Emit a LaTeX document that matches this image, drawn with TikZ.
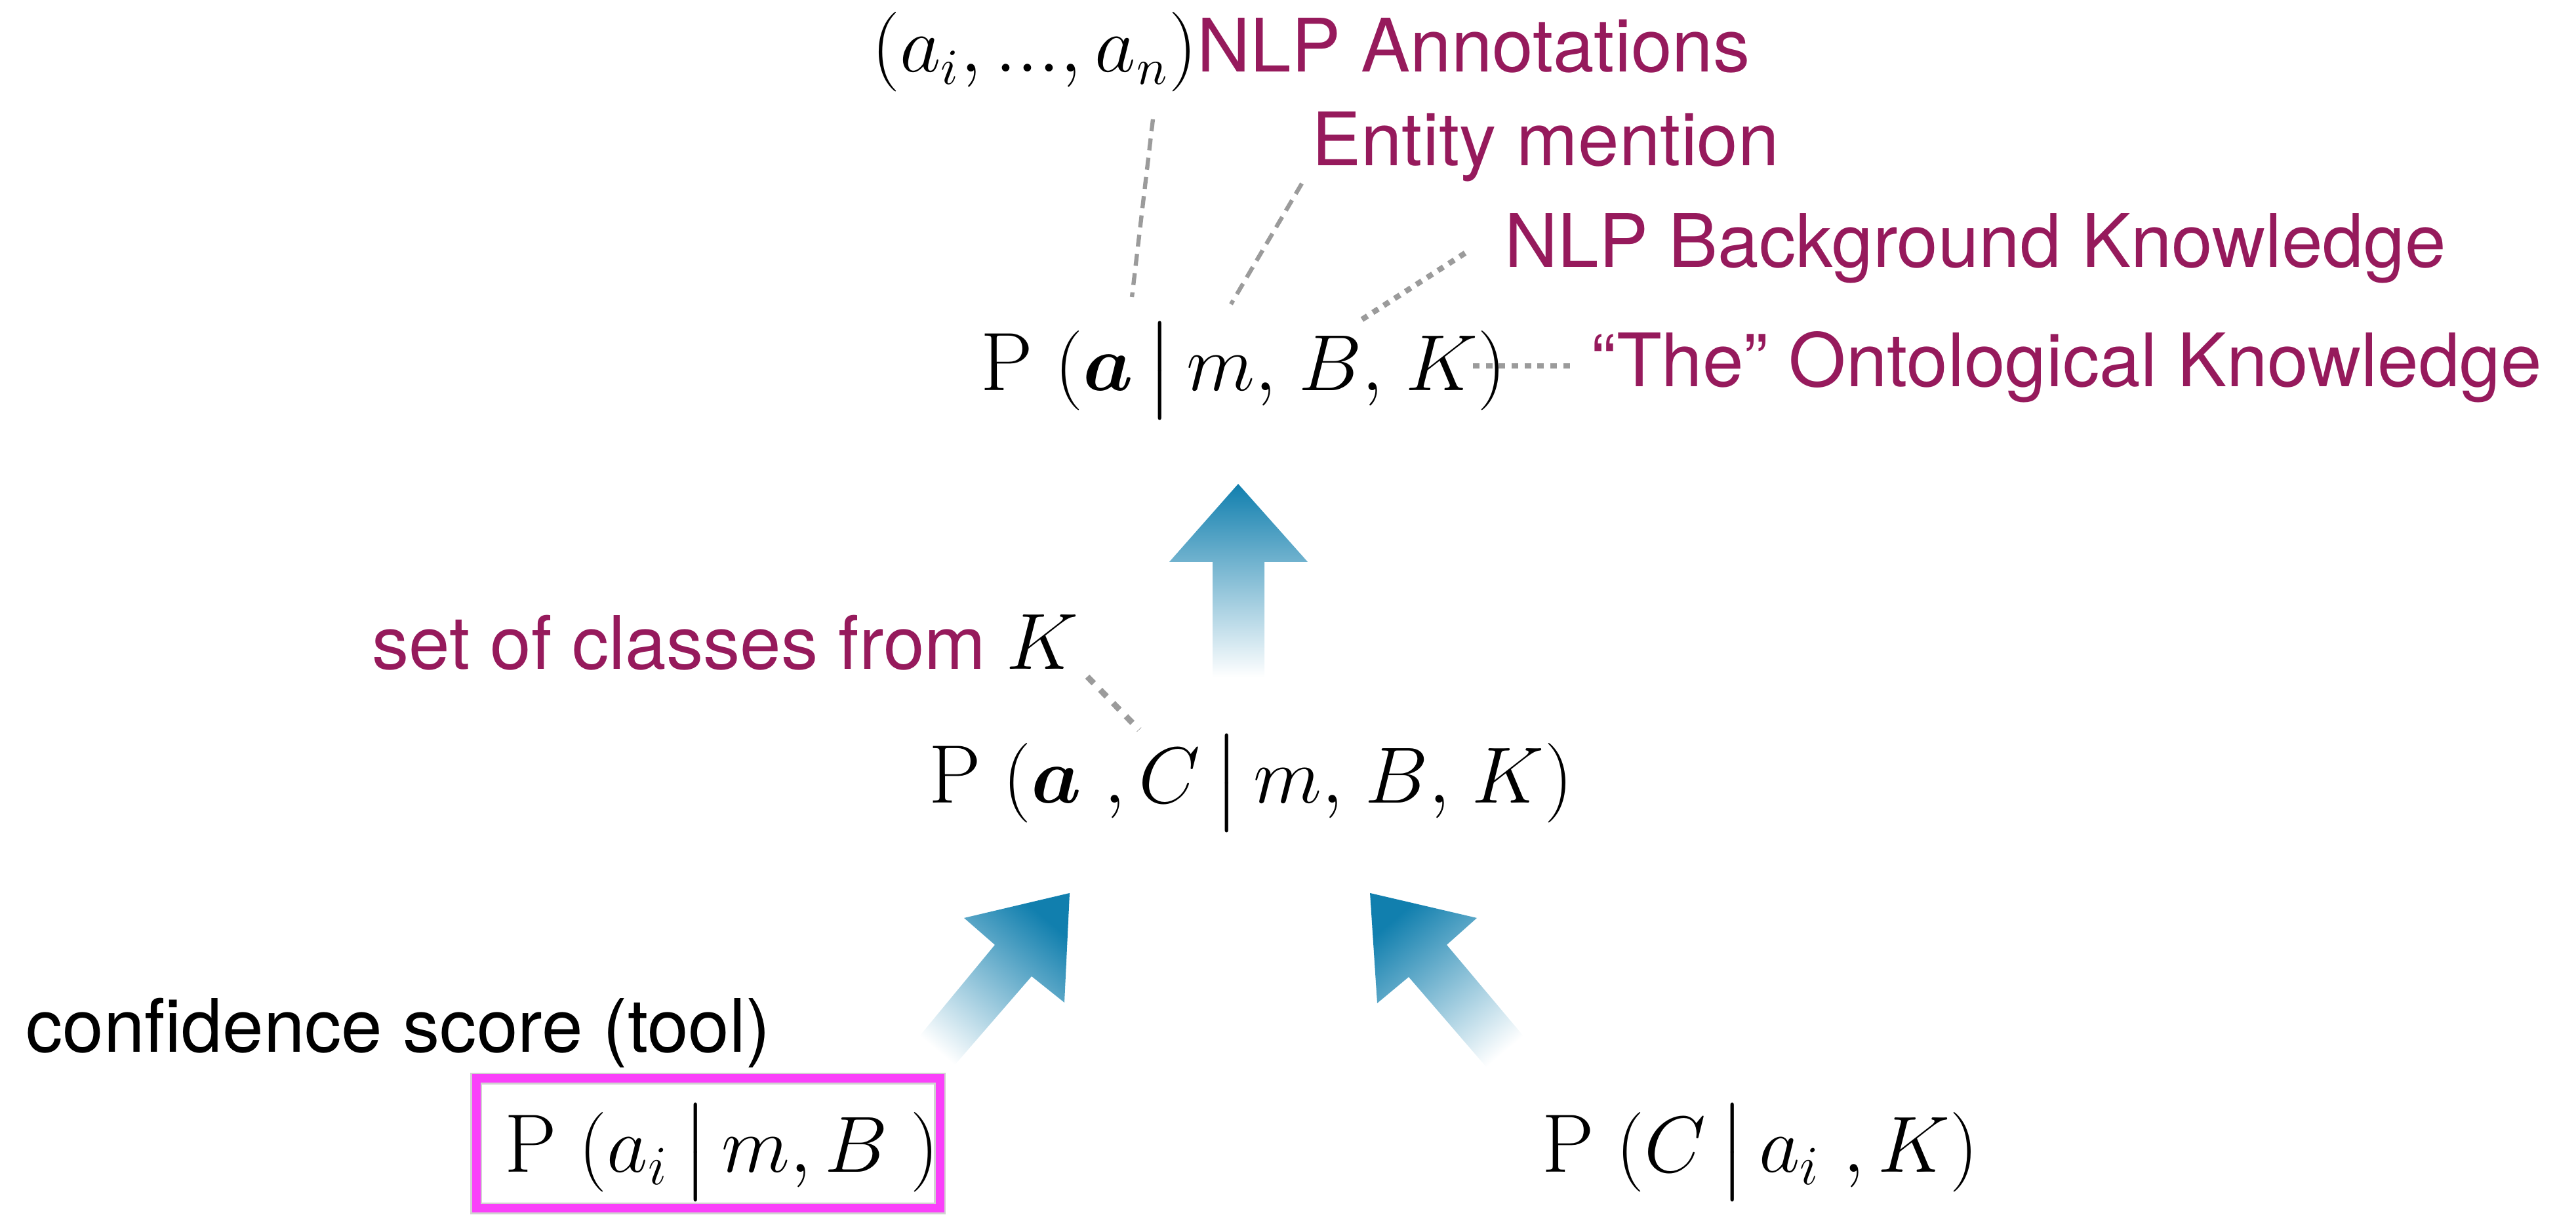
\documentclass[tikz,border=0pt]{standalone}
\usepackage{fontspec}
\usepackage{amsmath,bm}
\usetikzlibrary{calc}
\newfontfamily\labelsans{TeX Gyre Heros}
\definecolor{notepurple}{RGB}{150,26,92}
\definecolor{arrowblue}{RGB}{17,127,174}
\definecolor{boxmagenta}{RGB}{250,64,250}
\definecolor{leadgray}{RGB}{155,155,155}

\begin{document}
\begin{tikzpicture}[
    formula/.style={anchor=base west, inner sep=0pt,
                    font=\fontsize{18}{22}\selectfont},
    note/.style={anchor=base west, inner sep=0pt, text=notepurple,
                 font=\fontsize{16}{19}\labelsans},
    plainnote/.style={note, text=black},
    lead/.style={draw=leadgray, line width=0.9pt,
                 dash pattern=on 2.6pt off 1.6pt},
    dotlead/.style={draw=leadgray, line width=1.2pt,
                    dash pattern=on 1.4pt off 1.4pt},
    blockup/.style={top color=arrowblue, bottom color=white},
    confframe/.style={draw=boxmagenta, line width=1.85pt, inner sep=0pt,
                      preaction={draw=black!18, line width=2.6pt}},
]
\useasboundingbox (0,0) rectangle (19.64,9.28);

%---------------------------------------------------------------
% TOP: full model and what each argument stands for
%---------------------------------------------------------------
\node[formula] (ftop) at (7.47, 6.30)
     {$\mathrm{P}\;(\boldsymbol{a}\,\big|\,m,\mkern2mu B,\mkern2mu K)$};

\node[formula, font=\fontsize{16}{19}\selectfont] (fann) at (6.64, 8.73)
     {$(a_i, ..., a_n)$};
\node[note] (lann) at (9.12, 8.73) {NLP Annotations};
\node[note] (lent) at (9.995, 8.015) {Entity mention};
\node[note] (lbkg) at (11.465, 7.24) {NLP Background Knowledge};
\node[note] (lont) at (12.125, 6.33) {“The” Ontological Knowledge};

% leader lines from the notes down to the arguments
\coordinate (annend) at (8.79, 8.37);
\coordinate (annarg) at (8.63, 7.015);
\coordinate (entend) at (9.925, 7.88);
\coordinate (entarg) at (9.385, 6.96);
\coordinate (bkgend) at (11.17, 7.35);
\coordinate (bkgarg) at (10.355, 6.825);
\coordinate (ontarg) at (11.23, 6.49);
\coordinate (ontend) at (11.97, 6.49);

\draw[lead] (annend) -- (annarg);
\draw[lead] (entend) -- (entarg);
\draw[dotlead] (bkgend) -- (bkgarg);
\draw[dotlead] (ontarg) -- (ontend);

% up arrow into the full model
\shade[blockup] (9.245,4.115) -- (9.245,4.995) -- (8.915,4.995)
     -- (9.44,5.59) -- (9.97,4.995) -- (9.64,4.995) -- (9.64,4.115) -- cycle;

%---------------------------------------------------------------
% MIDDLE: joint over annotations and classes
%---------------------------------------------------------------
\node[formula] (fmid) at (7.075, 3.155)
     {$\mathrm{P}\;(\boldsymbol{a}\;,C\,\big|\,m,\mkern2mu B,\mkern2mu K)$};
\node[note] (lcls) at (2.83, 4.175)
     {set of classes from {\color{black}\fontsize{18}{22}\selectfont$K$}};

\coordinate (clsend) at (8.29, 4.12);
\coordinate (clsarg) at (8.685, 3.715);
\draw[dotlead, line width=1.3pt, dash pattern=on 2pt off 2pt]
     (clsend) -- (clsarg);

% two slanted arrows into the joint
\shade[blockup, shading angle=-40]
     (6.945,1.30) -- (7.585,2.075) -- (7.35,2.28) -- (8.155,2.47)
     -- (8.115,1.635) -- (7.865,1.835) -- (7.215,1.085) -- cycle;
\shade[blockup, shading angle=40]
     (11.665,1.32) -- (11.03,2.075) -- (11.26,2.28) -- (10.445,2.47)
     -- (10.50,1.63) -- (10.74,1.83) -- (11.395,1.07) -- cycle;

%---------------------------------------------------------------
% BOTTOM: the two factors
%---------------------------------------------------------------
\node[confframe, minimum width=3.535cm, minimum height=0.99cm]
     (confbox) at (5.3975, 0.56) {};
\node[formula] (fleft) at (3.84, 0.34)
     {$\mathrm{P}\;(a_i\,\big|\,m, B\;)$};
\node[plainnote] (lconf) at (0.19, 1.255) {confidence score (tool)};

\node[formula] (fright) at (11.75, 0.34)
     {$\mathrm{P}\;(C\,\big|\,a_i\;, K)$};

\end{tikzpicture}
\end{document}
